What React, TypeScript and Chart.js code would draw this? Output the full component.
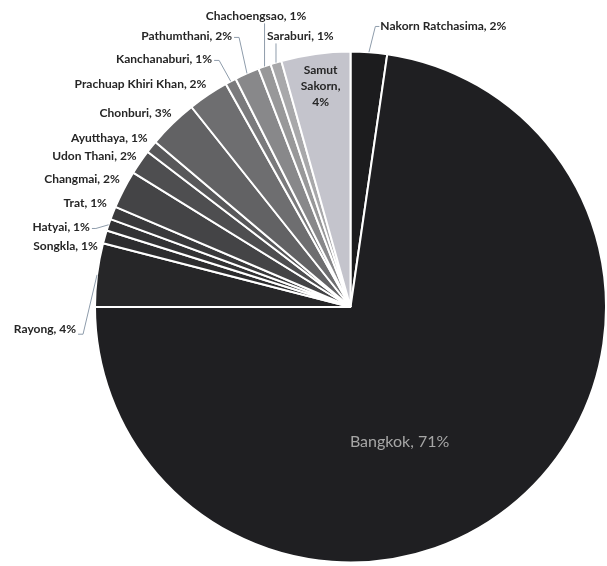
import React, { useEffect, useRef } from "react";
import { Chart, registerables } from "chart.js";

Chart.register(...registerables);

const categories = [
  "Nakorn Ratchasima",
  "Bangkok",
  "Rayong",
  "Songkla",
  "Hatyai",
  "Trat",
  "Changmai",
  "Udon Thani",
  "Ayutthaya",
  "Chonburi",
  "Prachuap Khiri Khan",
  "Kanchanaburi",
  "Pathumthani",
  "Chachoengsao",
  "Saraburi",
  "Samut Sakorn",
];

// slice sizes (percent)
const shares = [2.3, 72.71, 4.0, 0.83, 0.75, 0.82, 2.4, 1.58, 0.78, 3.14, 2.58, 0.69, 1.56, 0.8, 0.7, 4.36];

// percentages printed on the labels
const shownPercents = [2, 71, 4, 1, 1, 1, 2, 2, 1, 3, 2, 1, 2, 1, 1, 4];

const sliceColors = [
  "#1c1c1e",
  "#1f1f22",
  "#262628",
  "#2d2d2f",
  "#333335",
  "#3a3a3c",
  "#444446",
  "#4e4e50",
  "#58585a",
  "#626264",
  "#6e6e70",
  "#7a7a7c",
  "#88888a",
  "#989899",
  "#a8a8aa",
  "#c4c4cc",
];

type Layout = {
  dx: number;
  dy: number;
  align: CanvasTextAlign;
  inside?: boolean;
  wrap?: boolean;
  leader?: number[][];
};

// label placement relative to the outer mid-point of each slice
const labelLayout: Layout[] = [
  { dx: 11.4, dy: -25.7, align: "left", leader: [[10.4, -25.7], [6.4, -25.7]] },
  { dx: -118, dy: -58.4, align: "center", inside: true },
  { dx: -21, dy: 54.4, align: "right", leader: [[-19, 59.4], [-14, 59.4]] },
  { dx: -7, dy: 9.5, align: "right" },
  { dx: -18.7, dy: 2.7, align: "right", leader: [[-16.7, 3.7], [-12.7, 3.7]] },
  { dx: -6, dy: -9.4, align: "right" },
  { dx: -3.8, dy: -10.7, align: "right" },
  { dx: -3.4, dy: -6.2, align: "right" },
  { dx: -3.7, dy: -9, align: "right" },
  { dx: -1, dy: -10.6, align: "right" },
  { dx: -1.8, dy: -10.6, align: "right" },
  { dx: -18.6, dy: -21.9, align: "right", leader: [[-16.6, -20.9], [-11.6, -20.9]] },
  { dx: -14.9, dy: -37, align: "right", leader: [[-12.9, -36], [-7.9, -36]] },
  { dx: -8.5, dy: -50, align: "center", leader: [[0, -43]] },
  { dx: -9, dy: -26.2, align: "left", leader: [[0, -19.2]] },
  { dx: 5, dy: 32.6, align: "center", wrap: true },
];

const labelPlugin = {
  id: "sliceLabels",
  afterDatasetsDraw(chart: any) {
    const ctx = chart.ctx as CanvasRenderingContext2D;
    const meta = chart.getDatasetMeta(0);
    meta.data.forEach((arc: any, i: number) => {
      const p = arc.getProps(["x", "y", "startAngle", "endAngle", "outerRadius"], true);
      const mid = (p.startAngle + p.endAngle) / 2;
      const ax = p.x + Math.cos(mid) * p.outerRadius;
      const ay = p.y + Math.sin(mid) * p.outerRadius;
      const lay = labelLayout[i];
      ctx.save();
      if (lay.leader) {
        ctx.strokeStyle = "#8e9cab";
        ctx.lineWidth = 1;
        ctx.beginPath();
        lay.leader.forEach((pt, k) => {
          if (k === 0) ctx.moveTo(ax + pt[0], ay + pt[1]);
          else ctx.lineTo(ax + pt[0], ay + pt[1]);
        });
        ctx.lineTo(ax, ay);
        ctx.stroke();
      }
      const lx = ax + lay.dx;
      const ly = ay + lay.dy;
      ctx.textAlign = lay.align;
      ctx.textBaseline = "middle";
      if (i === 1) {
        ctx.font = "16px Lato";
        ctx.fillStyle = "#a6a6a6";
        ctx.fillText(`${categories[i]}, ${shownPercents[i]}%`, lx, ly);
      } else if (lay.wrap) {
        ctx.font = "bold 12px Lato";
        ctx.fillStyle = "#262626";
        const words = categories[i].split(" ");
        const lines = [...words.slice(0, -1), words[words.length - 1] + ",", `${shownPercents[i]}%`];
        const lh = 16;
        lines.forEach((t, k) => {
          ctx.fillText(t, lx, ly + (k - (lines.length - 1) / 2) * lh);
        });
      } else {
        ctx.font = "bold 12px Lato";
        ctx.fillStyle = "#262626";
        ctx.fillText(`${categories[i]}, ${shownPercents[i]}%`, lx, ly);
      }
      ctx.restore();
    });
  },
};

export default function App() {
  const ref = useRef<HTMLCanvasElement | null>(null);
  useEffect(() => {
    if (!ref.current) return;
    const chart = new Chart(ref.current, {
      type: "pie",
      data: {
        labels: categories,
        datasets: [
          {
            data: shares,
            backgroundColor: sliceColors,
            borderColor: "#ffffff",
            borderWidth: 2,
          },
        ],
      },
      options: {
        responsive: false,
        animation: false,
        devicePixelRatio: 1,
        layout: { padding: { left: 94, top: 49, right: -3, bottom: 1 } },
        plugins: {
          legend: { display: false },
          tooltip: { enabled: false },
        },
      },
      plugins: [labelPlugin],
    });
    return () => chart.destroy();
  }, []);
  return (
    <div style={{ position: "fixed", left: 0, top: 0, width: 607, height: 566, overflow: "hidden", background: "#fff" }}>
      <canvas ref={ref} width={607} height={566} style={{ display: "block" }} />
    </div>
  );
}
